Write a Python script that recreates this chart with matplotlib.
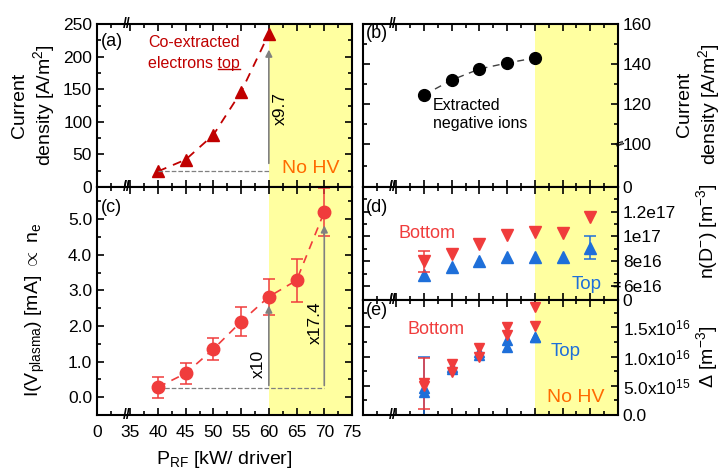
import numpy as np
import matplotlib
matplotlib.use("Agg")
import matplotlib.pyplot as plt
import matplotlib.transforms as mtransforms
from matplotlib.lines import Line2D

plt.rcParams['font.family'] = ['Liberation Sans', 'DejaVu Sans']
plt.rcParams['mathtext.fontset'] = 'custom'
plt.rcParams['mathtext.rm'] = 'Liberation Sans'
plt.rcParams['mathtext.it'] = 'Liberation Sans:italic'
plt.rcParams['mathtext.bf'] = 'Liberation Sans:bold'
plt.rcParams['font.size'] = 12

# ---- data ----
# (a) co-extracted electrons top [A/m2]
p_a = [40, 45, 50, 55, 60]
j_el = [24, 42, 80, 146, 235]
# (b) extracted negative ions [A/m2]
p_b = [40, 45, 50, 55, 60]
j_ion = [124.5, 132, 137.5, 140.5, 143]
# (c) I(V_plasma) [mA]
p_c = [40, 45, 50, 55, 60, 65, 70]
i_pl = [0.28, 0.67, 1.35, 2.12, 2.82, 3.28, 5.2]
i_pl_err = [0.3, 0.3, 0.3, 0.4, 0.5, 0.6, 0.67]
# (d) n(D-) [1e16 m^-3]
p_d = [40, 45, 50, 55, 60, 65, 70]
nd_bottom = [8.0, 8.6, 9.35, 10.1, 10.4, 10.3, 11.55]
nd_top = [6.9, 7.55, 8.0, 8.3, 8.3, 8.3, 9.1]
nd_bottom_err40 = 0.85
nd_top_err70 = 0.9
# (e) Delta [1e16 m^-3], two evaluations per position
p_e = [40, 45, 50, 55, 60]
de_bottom1 = [0.54, 0.88, 1.15, 1.51, 1.85]
de_bottom2 = [0.50, 0.73, 1.00, 1.37, 1.53]
de_top1 = [0.46, 0.83, 1.08, 1.29, 1.34]
de_top2 = [0.40, 0.78, 1.03, 1.17, 1.33]
de_bottom_err40 = 0.44
de_top_err40 = 0.54

x_zero = 29  # where the "0" of the broken x axis sits
x_ticks = [x_zero, 35, 40, 45, 50, 55, 60, 65, 70, 75]
x_labels = ['0', '35', '40', '45', '50', '55', '60', '65', '70', '75']
x_minor = [31.5, 37.5, 42.5, 47.5, 52.5, 57.5, 62.5, 67.5, 72.5]
x_break = 34.4

yellow = '#ffffa0'
dark_red = '#c00000'
red = '#f03c3c'
blue = '#1e6fd9'
orange = '#ff6a00'
gray = '#808080'

W, H = 722, 470
fig = plt.figure(figsize=(W / 100, H / 100), dpi=100)


def box(x0, y0, x1, y1):
    return [x0 / W, 1 - y1 / H, (x1 - x0) / W, (y1 - y0) / H]


ax_a = fig.add_axes(box(97, 24, 352, 187))
ax_c = fig.add_axes(box(97, 187, 352, 415))
ax_b = fig.add_axes(box(363, 24, 618, 187))
ax_d = fig.add_axes(box(363, 187, 618, 300))
ax_e = fig.add_axes(box(363, 300, 618, 415))

for ax in [ax_a, ax_b, ax_c, ax_d, ax_e]:
    ax.set_xlim(x_zero, 75)
    ax.axvspan(60, 75, color=yellow, zorder=0, lw=0)
    ax.set_xticks(x_ticks)
    ax.set_xticks(x_minor, minor=True)
    ax.set_xticklabels([])
    ax.tick_params(which='both', direction='in', top=True, bottom=True,
                   left=True, right=True, labelsize=12.5)
    ax.tick_params(which='major', length=5, width=1.2)
    ax.tick_params(which='minor', length=3, width=1.2)
    for s in ax.spines.values():
        s.set_linewidth(1.5)
    tr = mtransforms.blended_transform_factory(ax.transData, ax.transAxes)
    for yy in [0, 1]:
        ax.text(x_break, yy, '//', transform=tr, ha='center', va='center',
                fontsize=10, fontweight='bold', clip_on=False)

# ---- (a) ----
ax_a.set_ylim(0, 250)
ax_a.set_yticks([0, 50, 100, 150, 200, 250])
ax_a.set_yticks([25, 75, 125, 175, 225], minor=True)
ax_a.plot(p_a, j_el, ls=(0, (5, 4)), color=dark_red, lw=1.3, marker='^',
          ms=9, mec=dark_red, mfc=dark_red)
ax_a.plot([40, 60], [24, 24], ls='--', color=gray, lw=0.9)
ax_a.annotate('', xy=(60, 215), xytext=(60, 32),
              arrowprops=dict(arrowstyle='-|>', color=gray, lw=1.2, mutation_scale=10))
ax_a.text(62.0, 121, 'x9.7', rotation=90, ha='center', va='center', fontsize=12.5)
ax_a.text(0.016, 0.89, '(a)', transform=ax_a.transAxes, ha='left', va='center', fontsize=13)
ax_a.text(46.5, 221, 'Co-extracted', color=dark_red, ha='center', va='center', fontsize=11.5)
t_el = ax_a.text(46.5, 190, 'electrons top', color=dark_red, ha='center', va='center',
                 fontsize=11.5)
ax_a.text(67.6, 29, 'No HV', color=orange, ha='center', va='center', fontsize=14)
fig.text(34 / W, 1 - 105 / H, 'Current\ndensity [A/m$^2$]', rotation=90,
         ha='center', va='center', multialignment='center', fontsize=14, linespacing=1.2)

# ---- (c) ----
ax_c.set_ylim(-0.48, 5.9)
ax_c.set_yticks([0, 1, 2, 3, 4, 5])
ax_c.set_yticklabels(['0.0', '1.0', '2.0', '3.0', '4.0', '5.0'])
ax_c.set_yticks([-0.5, 0.5, 1.5, 2.5, 3.5, 4.5, 5.5], minor=True)
ax_c.set_xticklabels(x_labels)
ax_c.tick_params(axis='x', pad=7)
ax_c.plot(p_c, i_pl, ls=(0, (5, 4)), color=red, lw=1.2)
ax_c.errorbar(p_c, i_pl, yerr=i_pl_err, fmt='o', color=red, ms=9,
              capsize=4, elinewidth=1.1, capthick=1.1)
ax_c.plot([40, 70], [0.25, 0.25], ls='--', color=gray, lw=0.9)
ax_c.annotate('', xy=(60, 2.65), xytext=(60, 0.25),
              arrowprops=dict(arrowstyle='-|>', color=gray, lw=1.2, mutation_scale=10))
ax_c.annotate('', xy=(70, 4.9), xytext=(70, 0.25),
              arrowprops=dict(arrowstyle='-|>', color=gray, lw=1.2, mutation_scale=10))
ax_c.text(58.1, 0.93, 'x10', rotation=90, ha='center', va='center', fontsize=12.5)
ax_c.text(68.3, 2.1, 'x17.4', rotation=90, ha='center', va='center', fontsize=12.5)
ax_c.text(0.016, 0.912, '(c)', transform=ax_c.transAxes, ha='left', va='center', fontsize=13)
ax_c.set_ylabel(r'I(V$_{\mathrm{plasma}}$) [mA] $\propto$ n$_\mathrm{e}$', fontsize=14)
ax_c.yaxis.set_label_coords(-50 / 255, 0.46)
ax_c.set_xlabel(r'P$_{\mathrm{RF}}$ [kW/ driver]', fontsize=14, labelpad=7)

# ---- right column common ----
for ax in [ax_b, ax_d, ax_e]:
    ax.yaxis.tick_right()
    ax.tick_params(which='both', left=True, right=True, labelleft=False, labelright=True)

# ---- (b) ----
b_zero = 78.5
ax_b.set_ylim(b_zero, 160)
ax_b.set_yticks([b_zero, 100, 120, 140, 160])
ax_b.set_yticklabels(['0', '100', '120', '140', '160'])
ax_b.set_yticks([89, 110, 130, 150], minor=True)
ax_b.plot(p_b, j_ion, ls=(0, (5, 4)), color='#404040', lw=1.0, marker='o',
          ms=8.5, mfc='black', mec='black')
ax_b.text(41.6, 115, 'Extracted\nnegative ions', ha='left', va='center', fontsize=11.5,
          linespacing=1.25)
ax_b.text(0.012, 0.94, '(b)', transform=ax_b.transAxes, ha='left', va='center', fontsize=13)
ax_b.text(1.0, 100, '//', transform=mtransforms.blended_transform_factory(ax_b.transAxes, ax_b.transData),
          ha='center', va='center', fontsize=8, fontweight='bold', rotation=-60, clip_on=False)
fig.text(699 / W, 1 - 104 / H, 'Current\ndensity [A/m$^2$]', rotation=90,
         ha='center', va='center', multialignment='center', fontsize=14, linespacing=1.2)

# ---- (d) ----
d_zero = 4.86
ax_d.set_ylim(d_zero, 14.0)
ax_d.set_yticks([d_zero, 6, 8, 10, 12])
ax_d.set_yticklabels(['0', '6e16', '8e16', '1e17', '1.2e17'])
ax_d.set_yticks([7, 9, 11, 13], minor=True)
ax_d.plot(p_d, nd_bottom, 'v', color=red, ms=8)
ax_d.plot(p_d, nd_top, '^', color=blue, ms=8)
ax_d.errorbar(p_d[:1], nd_bottom[:1], yerr=nd_bottom_err40, fmt='none', ecolor=red,
              capsize=4, elinewidth=1.1, capthick=1.1)
ax_d.errorbar(p_d[-1:], nd_top[-1:], yerr=nd_top_err70, fmt='none', ecolor=blue,
              capsize=4, elinewidth=1.1, capthick=1.1)
ax_d.text(40.55, 10.24, 'Bottom', color=red, ha='center', va='center', fontsize=13)
ax_d.text(69.4, 6.08, 'Top', color=blue, ha='center', va='center', fontsize=13.5)
ax_d.text(0.012, 0.82, '(d)', transform=ax_d.transAxes, ha='left', va='center', fontsize=13)
ax_d.text(0.995, 6, '=', transform=mtransforms.blended_transform_factory(ax_d.transAxes, ax_d.transData),
          ha='center', va='center', fontsize=10, fontweight='bold', clip_on=False)
fig.text(707 / W, 1 - 231 / H, 'n(D$^{-}$) [m$^{-3}$]', rotation=90,
         ha='center', va='center', fontsize=14)

# ---- (e) ----
ax_e.set_ylim(0, 1.97)
ax_e.set_yticks([0, 0.5, 1.0, 1.5])
ax_e.set_yticklabels(['0.0', r'5.0x10$^{15}$', r'1.0x10$^{16}$', r'1.5x10$^{16}$'])
ax_e.set_yticks([0.25, 0.75, 1.25, 1.75], minor=True)
ax_e.errorbar(p_e[:1], de_top1[:1], yerr=de_top_err40, fmt='none', ecolor=blue,
              capsize=4, elinewidth=1.1, capthick=1.1)
ax_e.errorbar(p_e[:1], de_bottom1[:1], yerr=de_bottom_err40, fmt='none', ecolor=red,
              capsize=4, elinewidth=1.1, capthick=1.1)
ax_e.plot(p_e, de_top1, '^', color=blue, ms=7)
ax_e.plot(p_e, de_top2, '^', color=blue, ms=7)
ax_e.plot(p_e, de_bottom1, 'v', color=red, ms=7)
ax_e.plot(p_e, de_bottom2, 'v', color=red, ms=7)
ax_e.text(42.2, 1.46, 'Bottom', color=red, ha='center', va='center', fontsize=13)
ax_e.text(65.6, 1.085, 'Top', color=blue, ha='center', va='center', fontsize=13.5)
ax_e.text(67.4, 0.305, 'No HV', color=orange, ha='center', va='center', fontsize=14)
ax_e.text(0.012, 0.91, '(e)', transform=ax_e.transAxes, ha='left', va='center', fontsize=13)
fig.text(707 / W, 1 - 357 / H, r'$\Delta$ [m$^{-3}$]', rotation=90,
         ha='center', va='center', fontsize=14)

# underline "top" using the rendered extent of the text
fig.canvas.draw()
renderer = fig.canvas.get_renderer()
bb = t_el.get_window_extent(renderer)
tmp = ax_a.text(0, 0, 'top', fontsize=11.5)
w_top = tmp.get_window_extent(renderer).width
tmp.remove()
y_ul = bb.y0 + 0.08 * bb.height
pts = fig.transFigure.inverted().transform([(bb.x1 - w_top, y_ul), (bb.x1, y_ul)])
fig.add_artist(Line2D(pts[:, 0], pts[:, 1], transform=fig.transFigure,
                      color=dark_red, lw=1.0))

fig.savefig('out.png', dpi=100)
